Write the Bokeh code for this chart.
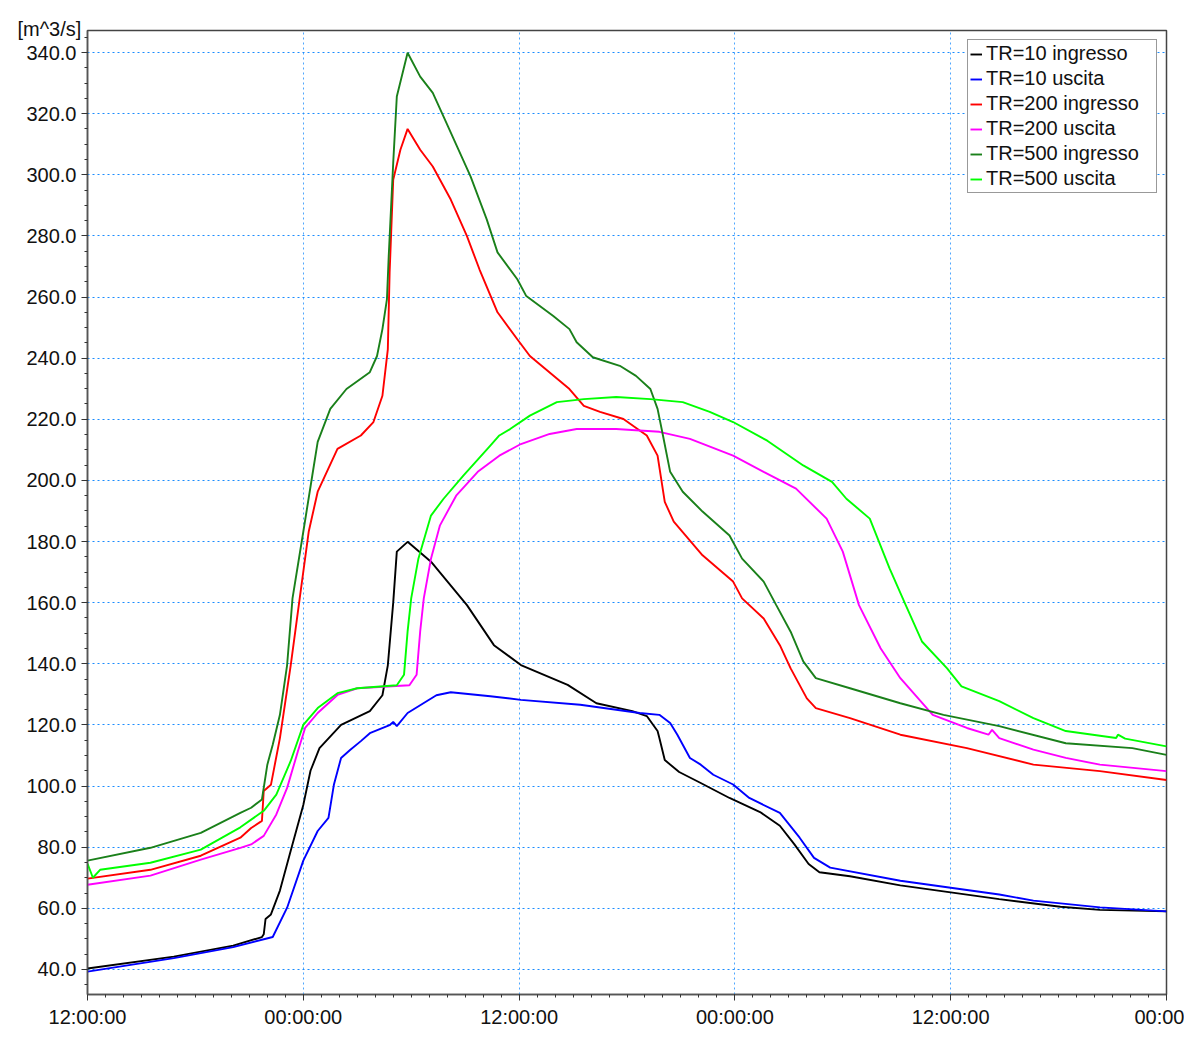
from bokeh.plotting import figure
from bokeh.models import Range1d, FixedTicker, Legend, LegendItem, PrintfTickFormatter, Title
from bokeh.embed import file_html
from bokeh.resources import INLINE

# time in hours from the first 12:00:00, discharge in m^3/s
t_tr10_in = [0.0, 4.8, 8.1, 9.7, 9.8, 9.9, 10.2, 10.7, 11.3, 12.0, 12.4, 12.9, 14.1, 15.7, 16.4, 16.7, 17.0,
             17.2, 17.8, 19.1, 21.1, 22.6, 24.1, 26.7, 28.3, 30.3, 31.1, 31.7, 31.8, 32.1, 32.9, 34.1, 35.7,
             37.4, 38.5, 39.3, 40.1, 40.7, 42.4, 45.2, 47.9, 50.7, 54.1, 56.3, 60.0]
q_tr10_in = [40.3, 44.2, 47.8, 50.6, 51.5, 56.5, 58.0, 65.8, 78.8, 93.8, 105.0, 112.4, 120.0, 124.5, 129.7,
             139.5, 160.0, 176.7, 179.9, 173.4, 159.2, 146.1, 139.6, 133.1, 127.1, 124.5, 122.9, 118.0, 115.7,
             108.5, 104.6, 101.0, 96.1, 91.5, 87.0, 81.0, 74.5, 71.8, 70.5, 67.5, 65.3, 63.0, 60.5, 59.5, 59.0]

t_tr10_out = [0.0, 4.8, 8.1, 10.3, 11.1, 12.0, 12.8, 13.4, 13.7, 14.1, 14.6, 15.2, 15.7, 16.8, 17.0, 17.2,
              17.8, 19.4, 20.2, 22.4, 24.1, 27.4, 30.7, 31.8, 32.4, 32.8, 33.5, 34.1, 34.8, 35.9, 36.8, 38.5,
              39.6, 40.4, 41.3, 45.2, 50.7, 52.6, 56.3, 60.0]
q_tr10_out = [39.3, 43.7, 47.3, 50.6, 60.2, 75.6, 85.3, 89.6, 100.4, 109.2, 111.8, 114.7, 117.3, 119.9, 121.0,
              119.6, 123.9, 129.7, 130.7, 129.4, 128.2, 126.6, 123.9, 123.3, 120.6, 116.8, 109.2, 107.0, 103.7,
              100.5, 96.1, 91.2, 83.1, 76.5, 73.3, 69.0, 64.5, 62.5, 60.3, 59.0]

t_tr200_in = [0.0, 3.5, 6.3, 8.5, 9.1, 9.7, 9.8, 10.2, 10.7, 11.3, 11.8, 12.3, 12.8, 13.9, 15.2, 15.9, 16.4,
              16.7, 16.8, 17.0, 17.4, 17.8, 18.5, 19.2, 20.2, 21.1, 21.8, 22.8, 23.9, 24.6, 26.8, 27.6, 28.5,
              29.8, 31.1, 31.7, 32.1, 32.6, 34.2, 35.9, 36.4, 37.6, 38.5, 39.1, 40.0, 40.5, 42.4, 45.2, 48.9,
              52.6, 56.3, 60.0]
q_tr200_in = [69.7, 72.6, 77.2, 83.1, 86.3, 88.6, 98.4, 100.4, 115.7, 139.5, 161.4, 183.2, 196.3, 210.3, 214.7,
              219.1, 227.7, 242.9, 268.0, 298.4, 308.2, 315.0, 308.2, 302.7, 291.9, 279.9, 269.0, 255.0, 246.2,
              240.7, 229.9, 224.4, 222.4, 220.1, 214.7, 208.1, 193.0, 186.5, 175.5, 166.9, 161.4, 154.8, 146.1,
              138.5, 128.7, 125.5, 122.2, 116.8, 112.4, 107.0, 104.9, 102.0]

t_tr200_out = [0.0, 3.5, 6.3, 8.5, 9.1, 9.8, 10.5, 11.1, 11.7, 12.1, 12.8, 13.9, 15.0, 17.9, 18.3, 18.5, 18.7,
               19.1, 19.6, 20.5, 21.7, 22.9, 24.1, 25.7, 27.2, 29.4, 31.8, 33.5, 35.9, 37.6, 39.4, 41.1, 42.0,
               42.9, 44.1, 45.2, 47.0, 48.9, 50.1, 50.3, 50.7, 52.6, 54.4, 56.3, 60.0]
q_tr200_out = [67.7, 70.7, 75.9, 79.8, 80.9, 83.7, 90.7, 99.4, 111.4, 119.0, 123.9, 129.8, 132.0, 133.0, 136.4,
               150.6, 161.4, 174.4, 185.3, 195.0, 202.8, 208.1, 211.9, 215.2, 216.8, 216.8, 215.9, 213.6, 208.1,
               202.8, 197.3, 187.5, 176.7, 159.2, 145.1, 135.3, 123.3, 119.0, 116.8, 118.4, 115.7, 111.9, 109.2,
               107.0, 104.9]

t_tr500_in = [0.0, 3.5, 6.3, 8.5, 9.1, 9.7, 10.0, 10.3, 10.7, 11.1, 11.4, 12.0, 12.5, 12.8, 13.5, 14.4, 15.7,
              16.1, 16.4, 16.65, 16.75, 17.0, 17.2, 17.8, 18.5, 19.2, 19.8, 21.3, 22.2, 22.8, 23.9, 24.4, 25.9,
              26.8, 27.2, 28.1, 29.6, 30.5, 31.3, 31.7, 32.0, 32.4, 33.1, 34.2, 35.7, 36.4, 37.6, 38.3, 39.1,
              39.8, 40.5, 42.4, 45.2, 47.6, 50.7, 54.4, 58.1, 60.0]
q_tr500_in = [75.6, 79.8, 84.7, 91.2, 92.9, 95.6, 107.0, 113.5, 123.3, 139.6, 161.4, 183.2, 201.6, 212.6, 223.4,
              229.9, 235.4, 240.7, 249.5, 259.2, 273.4, 303.9, 325.6, 339.9, 332.1, 326.8, 319.0, 299.5, 285.4,
              274.6, 265.8, 260.3, 253.8, 249.5, 245.2, 240.3, 237.5, 234.2, 229.9, 223.4, 214.7, 202.8, 196.3,
              189.8, 182.0, 174.4, 166.9, 159.2, 150.5, 140.8, 135.3, 132.0, 127.1, 123.3, 119.6, 114.0, 112.4,
              110.2]

t_tr500_out = [0.0, 0.3, 0.7, 3.5, 6.3, 8.5, 9.8, 10.5, 11.3, 12.0, 12.8, 13.9, 15.0, 17.2, 17.6, 17.8, 18.0,
               18.4, 19.1, 19.8, 20.9, 22.4, 22.9, 23.5, 24.6, 26.1, 27.6, 29.4, 31.3, 33.1, 34.6, 35.9, 37.8,
               39.8, 41.4, 42.2, 43.5, 44.6, 45.5, 46.4, 47.8, 48.6, 50.7, 52.6, 54.4, 57.2, 57.3, 57.7, 60.0]
q_tr500_out = [74.6, 70.0, 72.6, 74.9, 79.2, 86.5, 91.9, 97.2, 108.2, 120.0, 125.5, 130.4, 132.0, 133.0, 136.4,
               150.6, 161.4, 174.4, 188.5, 194.0, 201.6, 211.4, 214.7, 216.8, 221.2, 225.6, 226.6, 227.3, 226.6,
               225.6, 222.4, 219.1, 213.0, 204.9, 199.5, 194.0, 187.5, 171.2, 159.2, 147.3, 138.5, 132.6, 127.8,
               122.2, 118.0, 115.7, 116.8, 115.5, 113.0]

series_names = ["TR=10 ingresso", "TR=10 uscita", "TR=200 ingresso", "TR=200 uscita",
                "TR=500 ingresso", "TR=500 uscita"]
series_colors = ["#000000", "#0000ff", "#ff0000", "#ff00ff", "#1a801a", "#00ff00"]

x_ticks = [0, 12, 24, 36, 48, 60]
x_tick_labels = ["12:00:00", "00:00:00", "12:00:00", "00:00:00", "12:00:00", "00:00"]
y_ticks = [40, 60, 80, 100, 120, 140, 160, 180, 200, 220, 240, 260, 280, 300, 320, 340]
y_unit = "[m^3/s]"

FONT = "Liberation Sans"

p = figure(width=1184, height=1030, output_backend="svg", toolbar_location=None,
           x_range=Range1d(0, 60), y_range=Range1d(31.8, 347.2),
           min_border_left=87, min_border_right=18, min_border_top=30, min_border_bottom=33)
p.background_fill_color = "white"
p.border_fill_color = "white"
p.outline_line_color = "#444444"
p.outline_line_width = 1.5

xs = [t_tr10_in, t_tr10_out, t_tr200_in, t_tr200_out, t_tr500_in, t_tr500_out]
ys = [q_tr10_in, q_tr10_out, q_tr200_in, q_tr200_out, q_tr500_in, q_tr500_out]
renderers = []
for tx, qy, c in zip(xs, ys, series_colors):
    r = p.line(tx, qy, line_color=c, line_width=1.9)
    renderers.append(r)

# axes
p.xaxis.ticker = FixedTicker(ticks=x_ticks, minor_ticks=list(range(0, 61)))
p.xaxis.major_label_overrides = {t: l for t, l in zip(x_ticks, x_tick_labels)}
p.yaxis.ticker = FixedTicker(ticks=y_ticks, minor_ticks=list(range(35, 346, 5)))
p.yaxis.formatter = PrintfTickFormatter(format="%.1f")
for ax in (p.xaxis[0], p.yaxis[0]):
    ax.axis_line_color = "#555555"
    ax.axis_line_width = 1.5
    ax.major_tick_line_color = "#333333"
    ax.minor_tick_line_color = "#333333"
    ax.major_tick_out = 6
    ax.major_tick_in = 0
    ax.minor_tick_out = 3
    ax.minor_tick_in = 0
    ax.major_label_text_font = FONT
    ax.major_label_text_font_size = "20px"
    ax.major_label_text_color = "#111111"
    ax.major_label_standoff = 5

# grid
p.xgrid.ticker = FixedTicker(ticks=x_ticks)
p.ygrid.ticker = FixedTicker(ticks=y_ticks)
p.xgrid.grid_line_color = "#4da6ff"
p.xgrid.grid_line_dash = "2 3"
p.xgrid.grid_line_width = 1
p.ygrid.grid_line_color = "#1a8cff"
p.ygrid.grid_line_dash = "2 3"
p.ygrid.grid_line_width = 1.2

# unit label above the y axis
p.add_layout(Title(text=y_unit, align="left", offset=-70, standoff=-19, text_font=FONT,
                   text_font_size="20px", text_font_style="normal", text_color="#111111"), "above")

# legend
items = [LegendItem(label=n, renderers=[r]) for n, r in zip(series_names, renderers)]
legend = Legend(items=items, location="top_right")
legend.margin = 9
legend.padding = 2
legend.spacing = 2
legend.glyph_width = 12
legend.glyph_height = 22
legend.label_height = 22
legend.label_width = 168
legend.label_standoff = 4
legend.label_text_font = FONT
legend.label_text_font_size = "20px"
legend.label_text_color = "#111111"
legend.border_line_color = "#333333"
legend.border_line_width = 1.5
legend.background_fill_alpha = 1.0
p.add_layout(legend)

open("out.html", "w").write(file_html(p, INLINE))
